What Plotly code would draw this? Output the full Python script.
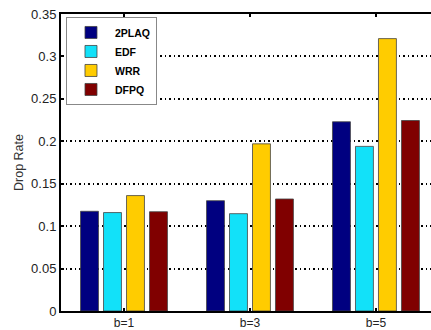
import plotly.graph_objects as go

categories = ["b=1", "b=3", "b=5"]
series_names = ["2PLAQ", "EDF", "WRR", "DFPQ"]
v_2plaq = [0.1175, 0.130, 0.223]
v_edf = [0.116, 0.1147, 0.194]
v_wrr = [0.136, 0.197, 0.321]
v_dfpq = [0.117, 0.132, 0.2245]
colors = ["#000080", "#12E1F9", "#FFCC00", "#800000"]
y_ticks = [0, 0.05, 0.1, 0.15, 0.2, 0.25, 0.3, 0.35]
y_ticktext = ["0", "0.05", "0.1", "0.15", "0.2", "0.25", "0.3", "0.35"]

xpos = [1, 2, 3]
values = [v_2plaq, v_edf, v_wrr, v_dfpq]

fig = go.Figure()
for name, vals, col in zip(series_names, values, colors):
    fig.add_trace(go.Bar(
        x=xpos, y=vals, name=name,
        marker=dict(color=col, line=dict(color="#444444", width=0.8)),
    ))

font = "Liberation Sans, Arial, sans-serif"
fig.update_layout(
    width=431, height=330,
    margin=dict(l=61, r=0, t=14, b=17),
    paper_bgcolor="white", plot_bgcolor="white",
    barmode="group", bargap=0.27, bargroupgap=0.22,
    font=dict(family=font, color="black", size=12),
    showlegend=True,
    legend=dict(
        x=0.0135, y=0.99, xanchor="left", yanchor="top",
        bordercolor="#888888", borderwidth=1, bgcolor="white",
        font=dict(family=font, size=10.5, color="black", weight="bold"),
        itemwidth=38, tracegroupgap=0,
    ),
    xaxis=dict(
        range=[0.5, 3.437],
        tickvals=xpos, ticktext=categories,
        showline=True, linecolor="black", linewidth=2, mirror="ticks",
        ticks="inside", ticklen=3, tickcolor="black", tickwidth=2,
        showgrid=False, zeroline=False,
        tickfont=dict(size=12, color="#222222"),
    ),
    yaxis=dict(
        range=[0, 0.35],
        tickvals=y_ticks, ticktext=y_ticktext,
        showline=True, linecolor="black", linewidth=2, mirror=False,
        ticks="inside", ticklen=3, tickcolor="black", tickwidth=2,
        showgrid=True, gridcolor="black", gridwidth=1.5, griddash="1.5px,3px",
        zeroline=False,
        tickfont=dict(size=13, color="#222222"),
        title=dict(text="Drop Rate", font=dict(size=12.5, color="#333333"), standoff=5),
    ),
)

fig.write_html("out.html")
